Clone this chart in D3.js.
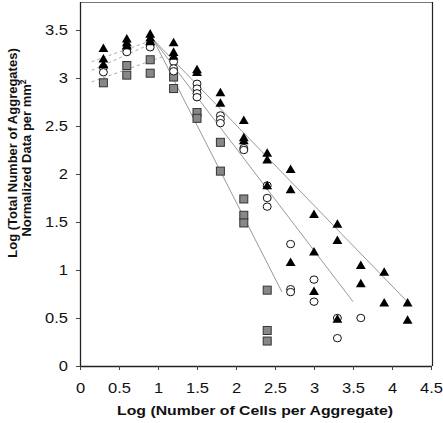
<!DOCTYPE html>
<html>
<head>
<meta charset="utf-8">
<script src="https://cdn.jsdelivr.net/npm/d3@7"></script>
<style>
  html, body { margin: 0; padding: 0; background: #fff; }
  svg { display: block; font-family: Arial, "Liberation Sans", sans-serif; }
</style>
</head>
<body>
<svg id="chart" width="443" height="423"></svg>
<script>
// ---- data (log values) ----
const xTicks = [0, 0.5, 1, 1.5, 2, 2.5, 3, 3.5, 4, 4.5];
const yTicks = [0, 0.5, 1, 1.5, 2, 2.5, 3, 3.5];

const trianglePoints = [
  [0.3, 3.30], [0.3, 3.19], [0.3, 3.13],
  [0.6, 3.40], [0.6, 3.36], [0.6, 3.33],
  [0.9, 3.45], [0.9, 3.41], [0.9, 3.37],
  [1.2, 3.36], [1.2, 3.26], [1.2, 3.22],
  [1.5, 3.08], [1.5, 3.05],
  [1.8, 2.84], [1.8, 2.73],
  [2.1, 2.55], [2.1, 2.37], [2.1, 2.34],
  [2.4, 2.21], [2.4, 2.14], [2.4, 1.87],
  [2.7, 2.04], [2.7, 1.83], [2.7, 1.07],
  [3.0, 1.57], [3.0, 1.18], [3.0, 0.77],
  [3.3, 1.47], [3.3, 1.30], [3.3, 0.48],
  [3.6, 1.04], [3.6, 0.85],
  [3.9, 0.97], [3.9, 0.65],
  [4.2, 0.65], [4.2, 0.47]
];
const circlePoints = [
  [0.3, 3.11], [0.3, 3.06],
  [0.6, 3.30], [0.6, 3.27],
  [0.9, 3.35], [0.9, 3.32],
  [1.2, 3.17], [1.2, 3.10], [1.2, 3.07],
  [1.5, 2.94], [1.5, 2.89], [1.5, 2.84], [1.5, 2.80],
  [1.8, 2.61], [1.8, 2.57], [1.8, 2.53],
  [2.1, 2.27], [2.1, 2.25],
  [2.4, 1.88], [2.4, 1.75], [2.4, 1.66],
  [2.7, 1.27], [2.7, 0.80], [2.7, 0.77],
  [3.0, 0.90], [3.0, 0.67],
  [3.3, 0.50], [3.3, 0.29],
  [3.6, 0.50]
];
const squarePoints = [
  [0.3, 2.95],
  [0.6, 3.13], [0.6, 3.03],
  [0.9, 3.19], [0.9, 3.05],
  [1.2, 3.01], [1.2, 2.89],
  [1.5, 2.64], [1.5, 2.58],
  [1.8, 2.33], [1.8, 2.03],
  [2.1, 1.74], [2.1, 1.57], [2.1, 1.49],
  [2.4, 0.79], [2.4, 0.37], [2.4, 0.26]
];
// trend lines: [x1, y1, x2, y2]
const solidTrends = [
  [0.94, 3.40, 4.22, 0.65],
  [0.94, 3.40, 3.50, 0.67],
  [0.94, 3.40, 2.59, 0.77]
];
const dottedTrends = [
  [0.15, 3.17, 0.95, 3.40],
  [0.15, 3.08, 0.95, 3.37],
  [0.15, 2.96, 1.05, 3.22]
];

// ---- layout ----
const svg = d3.select("#chart");
const mLeft = 80, mRight = 431, mTop = 30, mBottom = 366, frameTop = 2, frameRight = 432;
const stretch = 1.18; // horizontal stretch of the original picture's text
const x = d3.scaleLinear().domain([0, 4.5]).range([mLeft, mRight]);
const y = d3.scaleLinear().domain([0, 3.5]).range([mBottom, mTop]);

// frame
svg.append("line").attr("x1", mLeft).attr("x2", frameRight).attr("y1", frameTop + 0.5).attr("y2", frameTop + 0.5)
  .attr("stroke", "#777").attr("stroke-width", 1);
svg.append("line").attr("x1", frameRight + 0.5).attr("x2", frameRight + 0.5).attr("y1", frameTop).attr("y2", mBottom)
  .attr("stroke", "#222").attr("stroke-width", 1.2);

// axes
const xAxis = d3.axisBottom(x).tickValues(xTicks).tickSize(4).tickFormat(d => String(d));
const yAxis = d3.axisLeft(y).tickValues(yTicks).tickSize(4).tickFormat(d => String(d));

const gx = svg.append("g").attr("transform", `translate(0,${mBottom})`).call(xAxis);
gx.select(".domain").attr("d", `M${mLeft},0.5H${frameRight}`).attr("stroke", "#222").attr("stroke-width", 1.3);
const gy = svg.append("g").attr("transform", `translate(${mLeft},0)`).call(yAxis);
gy.select(".domain").attr("d", `M0.5,${frameTop}V${mBottom}`).attr("stroke", "#222").attr("stroke-width", 1.3);
[gx, gy].forEach(g => {
  g.selectAll(".tick line").attr("stroke", "#444");
  g.selectAll(".tick text").attr("font-size", 14).attr("fill", "#111")
    .attr("font-family", "Arial, 'Liberation Sans', sans-serif");
});
gx.selectAll(".tick text").attr("x", 0).attr("y", 0).attr("dy", null)
  .attr("transform", `translate(0,27) scale(${stretch},1)`);
gy.selectAll(".tick text").attr("x", 0).attr("dy", "0.34em")
  .attr("transform", `translate(-12,0) scale(${stretch},1)`);

// titles
svg.append("text").attr("transform", `translate(255,415) scale(${stretch},1)`)
  .attr("text-anchor", "middle").attr("font-size", 13.4).attr("font-weight", "bold").attr("fill", "#111")
  .text("Log (Number of Cells per Aggregate)");
const yt = svg.append("text").attr("transform", "rotate(-90)")
  .attr("text-anchor", "middle").attr("font-size", 13).attr("font-weight", "bold").attr("fill", "#111");
yt.append("tspan").attr("x", -153).attr("y", 17).text("Log (Total Number of Aggregates)");
const t2 = yt.append("tspan").attr("x", -158).attr("y", 31).text("Normalized Data per mm");
t2.append("tspan").attr("font-size", 8.5).attr("dy", -5).text("2");

// trend lines
svg.append("g").selectAll("line").data(solidTrends).join("line")
  .attr("x1", d => x(d[0])).attr("y1", d => y(d[1])).attr("x2", d => x(d[2])).attr("y2", d => y(d[3]))
  .attr("stroke", "#999").attr("stroke-width", 1);
svg.append("g").selectAll("line").data(dottedTrends).join("line")
  .attr("x1", d => x(d[0])).attr("y1", d => y(d[1])).attr("x2", d => x(d[2])).attr("y2", d => y(d[3]))
  .attr("stroke", "#aaa").attr("stroke-width", 1).attr("stroke-dasharray", "3,3");

// markers
svg.append("g").selectAll("rect").data(squarePoints).join("rect")
  .attr("x", d => x(d[0]) - 4).attr("y", d => y(d[1]) - 4).attr("width", 8).attr("height", 8)
  .attr("fill", "#888").attr("stroke", "#333").attr("stroke-width", 1);
svg.append("g").selectAll("ellipse").data(circlePoints).join("ellipse")
  .attr("cx", d => x(d[0])).attr("cy", d => y(d[1])).attr("rx", 4).attr("ry", 3.7)
  .attr("fill", "#fff").attr("stroke", "#111").attr("stroke-width", 1);
const tri = d3.symbol().type(d3.symbolTriangle).size(42);
svg.append("g").selectAll("path").data(trianglePoints).join("path")
  .attr("transform", d => `translate(${x(d[0])},${y(d[1])})`)
  .attr("d", tri).attr("fill", "#000");
</script>
</body>
</html>
